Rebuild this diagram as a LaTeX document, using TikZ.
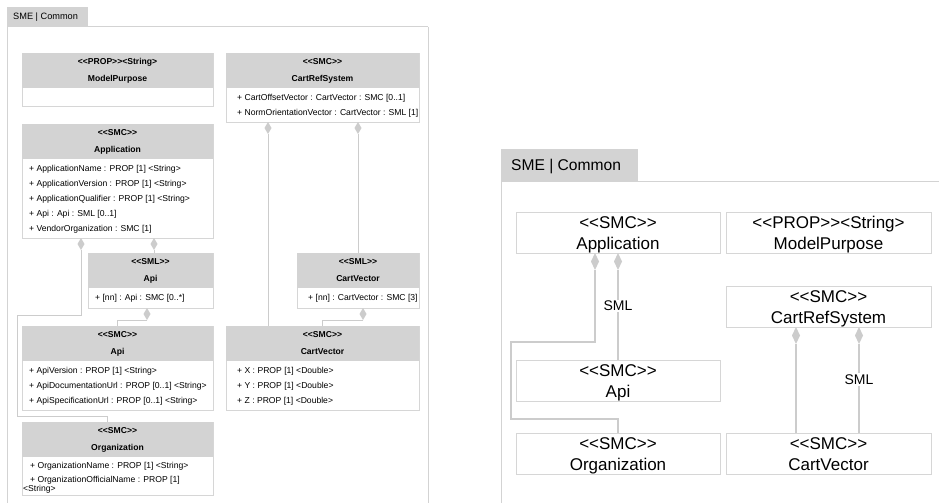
\documentclass[tikz,border=0pt]{standalone}
\usepackage{fontspec}
\setmainfont{Liberation Sans}[Ligatures=TeXOff]
\usetikzlibrary{calc,shapes.geometric}
\definecolor{hdr}{HTML}{D3D3D3}
\definecolor{bdr}{HTML}{D6D6D6}
\definecolor{lnc}{HTML}{CCCCCC}
\definecolor{frm}{HTML}{D3D3D3}
\newcommand\fts{\fontsize{8.6}{10}\selectfont}
\newcommand\ftsb{\fontsize{8.6}{10}\selectfont\bfseries}
\newcommand\fttab{\fontsize{9.2}{11}\selectfont}
\newcommand\ftbig{\fontsize{17}{20}\selectfont}
\newcommand\ftrtab{\fontsize{15.6}{18}\selectfont}
\newcommand\ftlbl{\fontsize{14}{16}\selectfont}
\begin{document}
\begin{tikzpicture}[x=1pt,y=-1pt,
 boxl/.style={draw=bdr, fill=white, line width=0.8pt, inner sep=0pt, outer sep=0pt, anchor=north west},
 headl/.style={fill=hdr, inner sep=0pt, outer sep=0pt, anchor=north west, minimum height=35},
 ttl/.style={font=\ftsb, anchor=base, inner sep=0pt},
 att/.style={font=\fts, anchor=base west, inner sep=0pt},
 conl/.style={draw=lnc, line width=1pt},
 dial/.style={diamond, fill=lnc, inner sep=0pt, outer sep=0pt, minimum width=7, minimum height=12, anchor=north},
 boxr/.style={draw=bdr, fill=white, line width=1pt, inner sep=0pt, outer sep=0pt, anchor=north west, minimum height=41},
 ttr/.style={font=\ftbig, anchor=base, inner sep=0pt},
 conr/.style={draw=lnc, line width=2pt},
 diar/.style={diamond, fill=lnc, inner sep=0pt, outer sep=0pt, minimum width=8, minimum height=17, anchor=north},
 lbl/.style={font=\ftlbl, fill=white, inner sep=1.5pt},
 frame/.style={draw=frm, line width=1pt},
 tab/.style={fill=hdr, inner sep=0pt, outer sep=0pt, anchor=north west},
]
\fill[white] (0,0) rectangle (939,503);
\useasboundingbox (0,0) rectangle (939,503);

% ---------------- left diagram ----------------
\node[tab, minimum width=81, minimum height=20] (ltab) at (7,7) {};
\node[font=\fttab, anchor=base west, inner sep=0pt] (ltabt) at (13,20) {SME | Common};
\draw[frame] (7,27) -- (428,27);
\draw[frame] (7,27) -- (7,503);
\draw[frame] (428,27) -- (428,503);

% ModelPurpose
\node[boxl, minimum width=191, minimum height=53] (mp) at (22,53) {};
\node[headl, minimum width=191] (mph) at (mp.north west) {};
\node[ttl] (mpt1) at (117.5,64.6) {<<PROP>><String>};
\node[ttl] (mpt2) at (117.5,81.6) {ModelPurpose};

% Application
\node[boxl, minimum width=191, minimum height=114] (app) at (22,124) {};
\node[headl, minimum width=191] (apph) at (app.north west) {};
\node[ttl] (appt1) at (117.5,135.6) {<<SMC>>};
\node[ttl] (appt2) at (117.5,152.6) {Application};
\node[att] (appa1) at (29,171.1) {+ ApplicationName : PROP [1] <String>};
\node[att] (appa2) at (29,186.1) {+ ApplicationVersion : PROP [1] <String>};
\node[att] (appa3) at (29,201.1) {+ ApplicationQualifier : PROP [1] <String>};
\node[att] (appa4) at (29,216.1) {+ Api : Api : SML [0..1]};
\node[att] (appa5) at (29,231.1) {+ VendorOrganization : SMC [1]};

% CartRefSystem
\node[boxl, minimum width=193, minimum height=69] (crs) at (226,53) {};
\node[headl, minimum width=193] (crsh) at (crs.north west) {};
\node[ttl] (crst1) at (322.5,64.6) {<<SMC>>};
\node[ttl] (crst2) at (322.5,81.6) {CartRefSystem};
\node[att] (crsa1) at (237,100.1) {+ CartOffsetVector : CartVector : SMC [0..1]};
\node[att] (crsa2) at (237,115.1) {+ NormOrientationVector : CartVector : SML [1]};

% Api (SML)
\node[boxl, minimum width=125, minimum height=55] (apisml) at (88,253) {};
\node[headl, minimum width=125] (apismlh) at (apisml.north west) {};
\node[ttl] (apismlt1) at (150.5,264.6) {<<SML>>};
\node[ttl] (apismlt2) at (150.5,281.6) {Api};
\node[att] (apismla1) at (95,300.1) {+ [nn] : Api : SMC [0..*]};

% Api (SMC)
\node[boxl, minimum width=191, minimum height=84] (apismc) at (22,326) {};
\node[headl, minimum width=191] (apismch) at (apismc.north west) {};
\node[ttl] (apismct1) at (117.5,337.6) {<<SMC>>};
\node[ttl] (apismct2) at (117.5,354.6) {Api};
\node[att] (apismca1) at (29,373.1) {+ ApiVersion : PROP [1] <String>};
\node[att] (apismca2) at (29,388.1) {+ ApiDocumentationUrl : PROP [0..1] <String>};
\node[att] (apismca3) at (29,403.1) {+ ApiSpecificationUrl : PROP [0..1] <String>};

% Organization
\node[boxl, minimum width=191, minimum height=73] (org) at (22,422) {};
\node[headl, minimum width=191] (orgh) at (org.north west) {};
\node[ttl] (orgt1) at (117.5,433.1) {<<SMC>>};
\node[ttl] (orgt2) at (117.5,450.1) {Organization};
\node[att] (orga1) at (30,468.1) {+ OrganizationName : PROP [1] <String>};
\node[att] (orga2) at (30,482.1) {+ OrganizationOfficialName : PROP [1]};
\node[att] (orga3) at (23,491.1) {<String>};

% CartVector (SML)
\node[boxl, minimum width=122, minimum height=55] (cvsml) at (297,253) {};
\node[headl, minimum width=122] (cvsmlh) at (cvsml.north west) {};
\node[ttl] (cvsmlt1) at (358,264.6) {<<SML>>};
\node[ttl] (cvsmlt2) at (358,281.6) {CartVector};
\node[att] (cvsmla1) at (308,300.1) {+ [nn] : CartVector : SMC [3]};

% CartVector (SMC)
\node[boxl, minimum width=193, minimum height=84] (cvsmc) at (226,326) {};
\node[headl, minimum width=193] (cvsmch) at (cvsmc.north west) {};
\node[ttl] (cvsmct1) at (322.5,337.6) {<<SMC>>};
\node[ttl] (cvsmct2) at (322.5,354.6) {CartVector};
\node[att] (cvsmca1) at (237,373.1) {+ X : PROP [1] <Double>};
\node[att] (cvsmca2) at (237,388.1) {+ Y : PROP [1] <Double>};
\node[att] (cvsmca3) at (237,403.1) {+ Z : PROP [1] <Double>};

% left connectors
\node[dial] (d1) at ($(app.south west)+(59,0)$) {};
\node[dial] (d2) at ($(app.south west)+(132,0)$) {};
\node[dial] (d3) at ($(apisml.south west)+(59,0)$) {};
\node[dial] (d4) at ($(crs.south west)+(42,0)$) {};
\node[dial] (d5) at ($(crs.south west)+(132,0)$) {};
\node[dial] (d6) at ($(cvsml.south west)+(66,0)$) {};
\draw[conl] (d1.south) |- ($(d1.south)+(-64,65)$) |- ($(org.north west)+(85,-6)$) -- ($(org.north west)+(85,0)$);
\draw[conl] (d2.south) -- (d2.south |- apisml.north);
\draw[conl] (d3.south) -| ($(apismc.north west)+(95,0)$);
\draw[conl] (d4.south) -- (d4.south |- cvsmc.north);
\draw[conl] (d5.south) -- (d5.south |- cvsml.north);
\draw[conl] (d6.south) -| ($(cvsmc.north west)+(96,0)$);

% ---------------- right diagram ----------------
\node[tab, minimum width=137, minimum height=32] (rtab) at (501,149) {};
\node[font=\ftrtab, anchor=base west, inner sep=0pt] (rtabt) at (511,170.6) {SME | Common};
\draw[frame] (501,181) -- (939,181);
\draw[frame] (501,181) -- (501,503);

\node[boxr, minimum width=204] (rapp) at (516,212) {};
\node[ttr] (rappt1) at (rapp.north |- 0,228.6) {<<SMC>>};
\node[ttr] (rappt2) at (rapp.north |- 0,249.1) {Application};

\node[boxr, minimum width=205] (rmp) at (726,212) {};
\node[ttr] (rmpt1) at (rmp.north |- 0,228.6) {<<PROP>><String>};
\node[ttr] (rmpt2) at (rmp.north |- 0,249.1) {ModelPurpose};

\node[boxr, minimum width=205] (rcrs) at (726,286) {};
\node[ttr] (rcrst1) at (rcrs.north |- 0,302.6) {<<SMC>>};
\node[ttr] (rcrst2) at (rcrs.north |- 0,323.1) {CartRefSystem};

\node[boxr, minimum width=204] (rapi) at (516,360) {};
\node[ttr] (rapit1) at (rapi.north |- 0,376.6) {<<SMC>>};
\node[ttr] (rapit2) at (rapi.north |- 0,397.1) {Api};

\node[boxr, minimum width=204] (rorg) at (516,433) {};
\node[ttr] (rorgt1) at (rorg.north |- 0,449.6) {<<SMC>>};
\node[ttr] (rorgt2) at (rorg.north |- 0,470.1) {Organization};

\node[boxr, minimum width=205] (rcv) at (726,433) {};
\node[ttr] (rcvt1) at (rcv.north |- 0,449.6) {<<SMC>>};
\node[ttr] (rcvt2) at (rcv.north |- 0,470.1) {CartVector};

\node[diar] (rd1) at ($(rapp.south west)+(79,0)$) {};
\node[diar] (rd2) at (rapp.south) {};
\node[diar] (rd3) at ($(rcrs.south west)+(70,0)$) {};
\node[diar] (rd4) at ($(rcrs.south west)+(133,0)$) {};
\draw[conr] (rd1.south) |- ($(rd1.south)+(-84,72)$) |- ($(rorg.north)+(0,-14)$) -- (rorg.north);
\draw[conr] (rd2.south) -- (rapi.north) node[lbl, pos=0.4] (rl1) {SML};
\draw[conr] (rd3.south) -- (rd3.south |- rcv.north);
\draw[conr] (rd4.south) -- (rd4.south |- rcv.north) node[lbl, pos=0.4] (rl2) {SML};
\end{tikzpicture}
\end{document}
